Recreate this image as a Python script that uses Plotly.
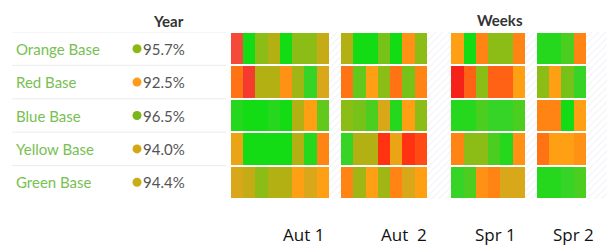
import numpy as np
import plotly.graph_objects as go

bases = ["Orange Base", "Red Base", "Blue Base", "Yellow Base", "Green Base"]
year_pct = [95.7, 92.5, 96.5, 94.0, 94.4]
year_labels = ["95.7%", "92.5%", "96.5%", "94.0%", "94.4%"]
dot_colors = ["#8cb814", "#ff9a1a", "#7ab51a", "#d4a814", "#c8ae14"]

terms = ["Aut 1", "Aut  2", "Spr 1", "Spr 2"]
# weekly scores (0 = red ... 10 = green), per term, per base row
aut1 = [
    [0.8, 10, 7, 6, 10, 7, 7, 5.5],
    [2.5, 0.5, 6, 6, 3.5, 6.5, 9, 5],
    [9.5, 10, 10, 9.5, 10, 6, 4, 8],
    [4.5, 10, 10, 10, 10, 6, 9.5, 3],
    [5, 5.5, 7, 6, 6, 4, 5, 4],
]
aut2 = [
    [6, 10, 10, 7.5, 10, 3.5, 7],
    [2.5, 8, 4, 7, 2.5, 7.5, 3],
    [7, 7.5, 8.5, 5, 9.5, 4, 7],
    [9, 6, 6, 1.0, 4.5, 1.0, 1.5],
    [3, 6.5, 4, 6.5, 3, 5, 4],
]
spr1 = [
    [4, 10, 3, 7, 7, 3],
    [0, 2, 7, 2, 2, 4],
    [9.5, 9.5, 8.5, 9, 9, 8.5],
    [3, 7, 7, 8.5, 9.5, 3.5],
    [9, 8.5, 3.5, 3, 5, 5],
]
spr2 = [
    [9.5, 9.5, 8.5, 3],
    [7, 4, 7.5, 9],
    [3, 3, 10, 4],
    [2.5, 4, 4, 3.5],
    [9.5, 9.5, 9, 8.5],
]
term_data = [aut1, aut2, spr1, spr2]
gaps_after = [1, 2, 1, 2]  # holiday weeks after each term

# build grid
z_rows = [[] for _ in bases]
gap_x = []
col = 0
for t, g in zip(term_data, gaps_after):
    n = len(t[0])
    for r in range(len(bases)):
        z_rows[r].extend(t[r])
    col += n
    for k in range(g):
        for r in range(len(bases)):
            z_rows[r].append(np.nan)
        gap_x.append(col)
        col += 1
ncols = col
z = np.array(z_rows, dtype=float)

colorscale = [
    [0.0, "#f5221a"], [0.08, "#f54a3a"], [0.1, "#ff3212"], [0.2, "#ff6214"], [0.3, "#ff8414"],
    [0.4, "#ffa014"], [0.5, "#d8a81a"], [0.6, "#b2b012"], [0.7, "#8cbc16"],
    [0.8, "#62c81c"], [0.9, "#36d426"], [1.0, "#14dc14"],
]

# page body has an 8px margin; work in window pixels and convert
OFF = 8
W, H = 615 - OFF, 248 - OFF


def px_x(px):
    return (px - OFF) / W


def px_y(py):
    return 1 - (py - OFF) / H


top_px, bot_px = 32, 199
left_px = 231
colw = 12.24
right_px = left_px + colw * ncols

fig = go.Figure()

# hatched holiday columns
fig.add_trace(go.Bar(
    x=gap_x, y=[len(bases)] * len(gap_x), base=[-0.5] * len(gap_x),
    width=1, marker=dict(color="white", line=dict(width=0),
                         pattern=dict(shape="/", fgcolor="#dfe2ec", bgcolor="white", size=5, solidity=0.2)),
    xaxis="x", yaxis="y", hoverinfo="skip", showlegend=False,
))

fig.add_trace(go.Heatmap(
    z=z, x=list(range(ncols)), y=list(range(len(bases))),
    colorscale=colorscale, zmin=0, zmax=10, showscale=False,
    xgap=0, ygap=2, hoverongaps=False, xaxis="x", yaxis="y",
))

# year dots (x2 axis is in window pixels)
fig.add_trace(go.Scatter(
    x=[137] * len(bases), y=list(range(len(bases))), mode="markers",
    marker=dict(size=9, color=dot_colors), xaxis="x2", yaxis="y",
    hoverinfo="skip", showlegend=False,
))

annotations = []
for i, (b, p) in enumerate(zip(bases, year_labels)):
    annotations.append(dict(x=14, y=i, xref="x2", yref="y", text=b, showarrow=False,
                            xanchor="left", yanchor="middle",
                            font=dict(family="Lato", size=15, color="#78c052")))
    annotations.append(dict(x=141, y=i, xref="x2", yref="y", text=p, showarrow=False,
                            xanchor="left", yanchor="middle",
                            font=dict(family="Lato", size=15, color="#555555")))

annotations.append(dict(x=px_x(168), y=px_y(21), xref="paper", yref="paper", text="<b>Year</b>",
                        showarrow=False, xanchor="center", yanchor="middle",
                        font=dict(family="Lato", size=15, color="#333333")))
annotations.append(dict(x=px_x(500), y=px_y(20), xref="paper", yref="paper", text="<b>Weeks</b>",
                        showarrow=False, xanchor="center", yanchor="middle",
                        font=dict(family="Lato", size=15, color="#333333")))

term_label_px = [303, 404, 495, 573]
for t, px in zip(terms, term_label_px):
    annotations.append(dict(x=px_x(px), y=px_y(234), xref="paper", yref="paper",
                            text=t.replace("  ", "&nbsp;&nbsp;"), showarrow=False,
                            xanchor="center", yanchor="middle",
                            font=dict(family="Open Sans", size=17, color="#111111")))

shapes = []
for yb in [-0.5, 0.5, 1.5, 2.5, 3.5]:
    shapes.append(dict(type="line", xref="x2", yref="y", x0=12, x1=226, y0=yb, y1=yb,
                       line=dict(color="#ececec", width=1)))

fig.update_layout(
    width=W, height=H, margin=dict(l=0, r=0, t=0, b=0),
    paper_bgcolor="white", plot_bgcolor="rgba(0,0,0,0)",
    bargap=0,
    xaxis=dict(domain=[px_x(left_px), min(1, px_x(right_px))], range=[-0.5, ncols - 0.5],
               visible=False, fixedrange=True),
    xaxis2=dict(domain=[0, px_x(227)], range=[OFF, 227], visible=False, anchor="y"),
    yaxis=dict(domain=[px_y(bot_px), px_y(top_px)], range=[len(bases) - 0.5, -0.5],
               visible=False),
    annotations=annotations, shapes=shapes,
)

fig.write_html("out.html")
